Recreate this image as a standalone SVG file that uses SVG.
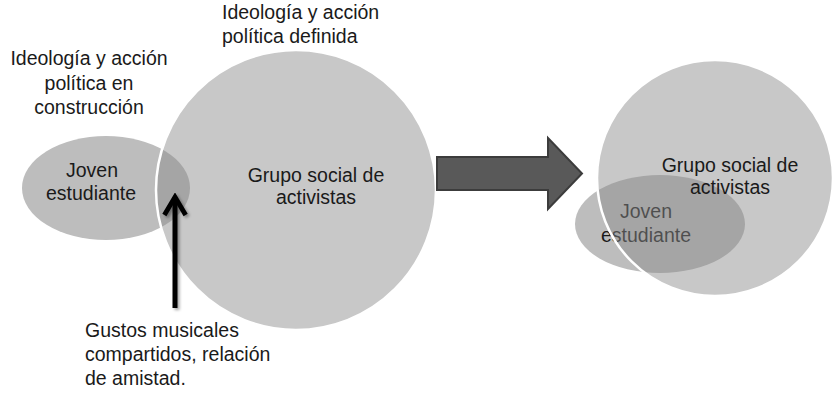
<svg xmlns="http://www.w3.org/2000/svg" width="840" height="402" viewBox="0 0 840 402">
  <defs>
    <style>
      text { font-family: "Liberation Sans", Arial, sans-serif; font-size: 19.5px; fill: #1a1a1a; }
      .mid { text-anchor: middle; }
      .ell { fill: #bdbdbd; }
      .circ { fill: #8a8a8a; fill-opacity: 0.47; stroke: #ffffff; stroke-width: 2.5; }
      .big { fill: #595959; stroke: #3c3c3c; stroke-width: 2; }
      .up { fill: none; stroke: #000000; stroke-width: 5; stroke-linejoin: miter; stroke-miterlimit: 10; }
    </style>
    <marker id="head" viewBox="0 0 10 10" refX="8.4" refY="5" markerUnits="userSpaceOnUse" markerWidth="28" markerHeight="28" orient="auto">
      <path d="M2,1.2 L8.4,5 L2,8.8" fill="none" stroke="#000" stroke-width="1.7" stroke-linejoin="miter"/>
    </marker>
    <filter id="sh" filterUnits="userSpaceOnUse" x="150" y="180" width="60" height="140">
      <feGaussianBlur in="SourceAlpha" stdDeviation="1.5"/>
      <feOffset dx="1.5" dy="1.5" result="b"/>
      <feComponentTransfer><feFuncA type="linear" slope="0.35"/></feComponentTransfer>
      <feMerge><feMergeNode/><feMergeNode in="SourceGraphic"/></feMerge>
    </filter>
  </defs>
  <rect width="840" height="402" fill="#ffffff"/>

  <g id="label-left-top">
    <text class="mid" x="89" y="65">Ideología y acción</text>
    <text class="mid" x="89" y="90">política en</text>
    <text class="mid" x="89" y="114">construcción</text>
  </g>
  <g id="label-center-top">
    <text x="222" y="19">Ideología y acción</text>
    <text x="222" y="43">política definida</text>
  </g>

  <g id="left-joven">
    <ellipse class="ell" cx="106" cy="188" rx="84" ry="52"/>
    <text class="mid" x="92" y="177">Joven</text>
    <text class="mid" x="91" y="200">estudiante</text>
  </g>
  <g id="left-grupo">
    <circle class="circ" cx="296" cy="190" r="140"/>
    <text class="mid" x="316" y="182">Grupo social de</text>
    <text class="mid" x="316" y="204">activistas</text>
  </g>

  <g id="right-joven">
    <ellipse class="ell" cx="660" cy="224" rx="85" ry="49"/>
    <text class="mid" x="646" y="218">Joven</text>
    <text class="mid" x="646" y="242">estudiante</text>
  </g>
  <g id="right-grupo">
    <circle class="circ" cx="715" cy="178" r="118"/>
    <text class="mid" x="730" y="172">Grupo social de</text>
    <text class="mid" x="730" y="194">activistas</text>
  </g>

  <g id="label-bottom">
    <text x="85" y="337">Gustos musicales</text>
    <text x="85" y="361">compartidos, relación</text>
    <text x="85" y="385">de amistad.</text>
  </g>

  <g id="connectors">
    <g filter="url(#sh)">
      <path class="up" d="M175,308 L175,197" marker-end="url(#head)"/>
    </g>
    <polygon class="big" points="437,157 548,157 548,138 582,173.5 548,209 548,190 437,190"/>
  </g>
</svg>
